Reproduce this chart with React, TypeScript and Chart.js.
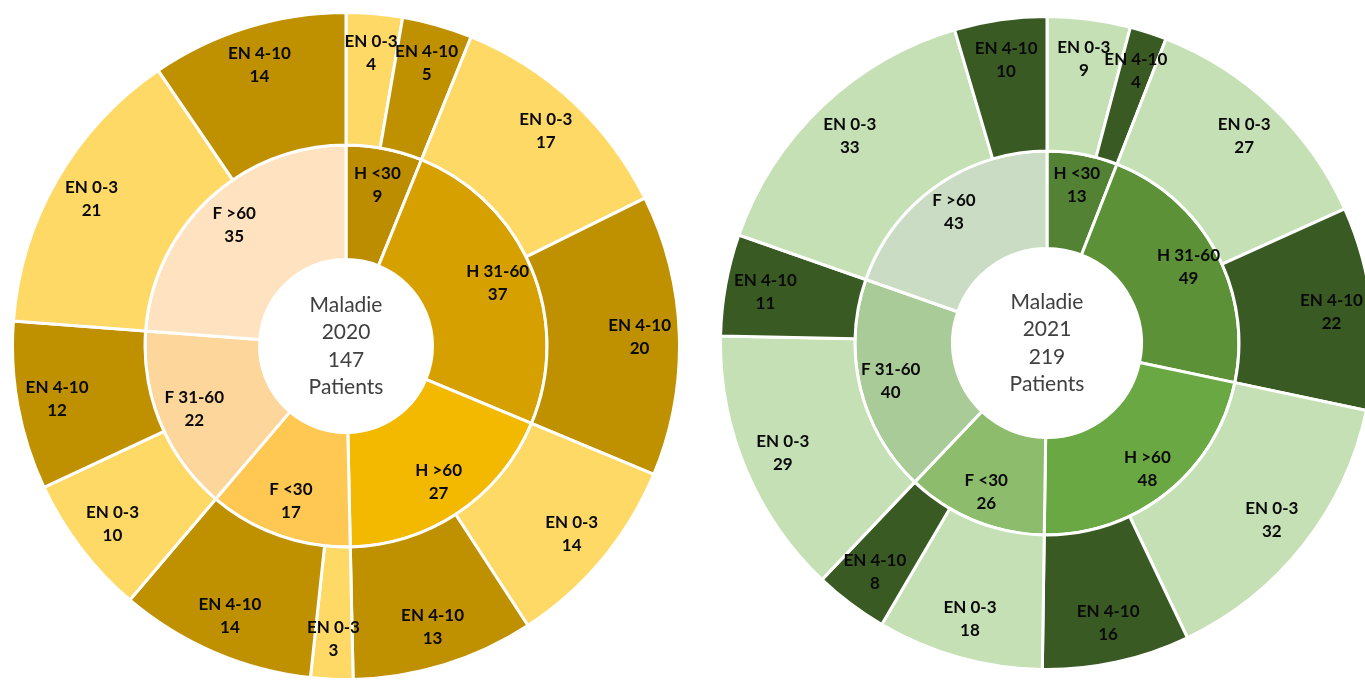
import React, { useEffect, useRef } from "react";
import { Chart, registerables } from "chart.js";

Chart.register(...registerables);

// ---- data ----
const innerLabels = ["H <30", "H 31-60", "H >60", "F <30", "F 31-60", "F >60"];
const outerLabels = [
  "EN 0-3", "EN 4-10", "EN 0-3", "EN 4-10", "EN 0-3", "EN 4-10",
  "EN 0-3", "EN 4-10", "EN 0-3", "EN 4-10", "EN 0-3", "EN 4-10",
];

const inner2020 = [9, 37, 27, 17, 22, 35];
const outer2020 = [4, 5, 17, 20, 14, 13, 3, 14, 10, 12, 21, 14];
const center2020 = ["Maladie", "2020", "147", "Patients"];

const inner2021 = [13, 49, 48, 26, 40, 43];
const outer2021 = [9, 4, 27, 22, 32, 16, 18, 8, 29, 11, 33, 10];
const center2021 = ["Maladie", "2021", "219", "Patients"];

// ---- styles ----
const innerColors2020 = ["#BD8D00", "#D6A100", "#F3B800", "#FFC852", "#FDD69B", "#FFE2BF"];
const outerColors2020 = ["#FFD966", "#BF9000"];
const innerColors2021 = ["#548235", "#5C9137", "#6AA843", "#8CBC6C", "#A9CB98", "#CADCC4"];
const outerColors2021 = ["#C5E0B4", "#3A5A24"];

const BW = 3;

type Spec = {
  inner: number[];
  outer: number[];
  center: string[];
  innerColors: string[];
  outerColors: string[];
  cx: number;
  cy: number;
  rOuter: number;
  rBoundary: number;
  rHole: number;
};

const labelPlugin = {
  id: "sunLabels",
  afterDatasetsDraw(chart: any, _args: any, opts: any) {
    const ctx = chart.ctx;
    ctx.save();
    ctx.textAlign = "center";
    ctx.textBaseline = "middle";
    chart.data.datasets.forEach((ds: any, di: number) => {
      const meta = chart.getDatasetMeta(di);
      const frac = di === 0 ? 0.7 : 0.68;
      meta.data.forEach((arc: any, i: number) => {
        const p = arc.getProps(["startAngle", "endAngle", "innerRadius", "outerRadius", "x", "y"], true);
        const mid = (p.startAngle + p.endAngle) / 2;
        const r = p.innerRadius + frac * (p.outerRadius - p.innerRadius);
        const x = p.x + Math.cos(mid) * r;
        const y = p.y + Math.sin(mid) * r;
        ctx.fillStyle = "#0a0a0a";
        ctx.font = "bold 17px Lato";
        ctx.fillText(ds.labelsText[i], x, y - 11.5);
        ctx.fillText(String(ds.data[i]), x, y + 11.5);
      });
    });
    const arc0 = chart.getDatasetMeta(0).data[0];
    if (arc0) {
      const lines: string[] = opts.lines || [];
      ctx.fillStyle = "#404040";
      ctx.font = "21px Lato";
      const lh = 27.5;
      const y0 = arc0.y - ((lines.length - 1) * lh) / 2;
      lines.forEach((t, k) => ctx.fillText(t, arc0.x, y0 + k * lh));
    }
    ctx.restore();
  },
};

function Sunburst({ spec }: { spec: Spec }) {
  const ref = useRef<HTMLCanvasElement | null>(null);
  const outerRadius = spec.rOuter + BW / 2;
  const cutoutPx = spec.rHole - BW / 2;
  const size = Math.round(2 * outerRadius + BW);

  useEffect(() => {
    if (!ref.current) return;
    const outerBg = spec.outer.map((_, i) => spec.outerColors[i % 2]);
    const chart = new Chart(ref.current, {
      type: "doughnut",
      data: {
        labels: outerLabels,
        datasets: [
          {
            data: spec.outer,
            backgroundColor: outerBg,
            borderColor: "#ffffff",
            borderWidth: BW,
            weight: outerRadius - spec.rBoundary,
            labelsText: outerLabels,
          } as any,
          {
            data: spec.inner,
            backgroundColor: spec.innerColors,
            borderColor: "#ffffff",
            borderWidth: BW,
            weight: spec.rBoundary - cutoutPx,
            labelsText: innerLabels,
          } as any,
        ],
      },
      options: {
        animation: false,
        responsive: false,
        maintainAspectRatio: false,
        cutout: cutoutPx,
        radius: "100%",
        layout: { padding: 0 },
        plugins: {
          legend: { display: false },
          tooltip: { enabled: false },
          sunLabels: { lines: spec.center },
        } as any,
      },
      plugins: [labelPlugin],
    });
    return () => chart.destroy();
  }, []);

  const left = spec.cx - size / 2;
  const top = spec.cy - size / 2;
  return (
    <canvas
      ref={ref}
      width={size}
      height={size}
      style={{ position: "absolute", left, top, width: size, height: size }}
    />
  );
}

const spec2020: Spec = {
  inner: inner2020,
  outer: outer2020,
  center: center2020,
  innerColors: innerColors2020,
  outerColors: outerColors2020,
  cx: 346,
  cy: 346,
  rOuter: 332,
  rBoundary: 201,
  rHole: 88,
};

const spec2021: Spec = {
  inner: inner2021,
  outer: outer2021,
  center: center2021,
  innerColors: innerColors2021,
  outerColors: outerColors2021,
  cx: 1047,
  cy: 343,
  rOuter: 325,
  rBoundary: 192,
  rHole: 96,
};

export default function App() {
  return (
    <div
      style={{
        position: "fixed",
        left: 0,
        top: 0,
        width: 1365,
        height: 681,
        overflow: "hidden",
        background: "#ffffff",
      }}
    >
      <Sunburst spec={spec2020} />
      <Sunburst spec={spec2021} />
    </div>
  );
}
